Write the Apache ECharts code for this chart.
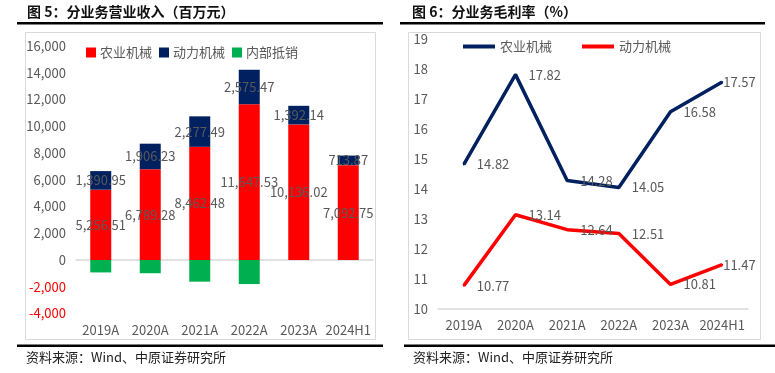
<!DOCTYPE html>
<html>
<head>
<meta charset="utf-8">
<script src="https://cdn.jsdelivr.net/npm/echarts@6/dist/echarts.min.js"></script>
<style>
html,body{margin:0;padding:0;background:#fff;}
#c{width:775px;height:373px;}
</style>
</head>
<body>
<div id="c"></div>
<script>
// ---- Data ----
const categories = ['2019A', '2020A', '2021A', '2022A', '2023A', '2024H1'];
const revAgri = [5256.51, 6789.28, 8462.48, 11647.53, 10136.02, 7092.75];
const revPower = [1390.95, 1906.23, 2277.49, 2575.47, 1392.14, 713.87];
const revElim = [-930, -990, -1620, -1800, 0, 0];
const marginAgri = [14.82, 17.82, 14.28, 14.05, 16.58, 17.57];
const marginPower = [10.77, 13.14, 12.64, 12.51, 10.81, 11.47];
const seriesNames = ['农业机械', '动力机械', '内部抵销'];
const title1 = '图 5：分业务营业收入（百万元）';
const title2 = '图 6：分业务毛利率（%）';
const sourceText = '资料来源：Wind、中原证券研究所';

const FONT = '"Noto Sans CJK SC", "Noto Sans", sans-serif';
const GRAY = '#595959';
const RED = '#FF0000';
const NAVY = '#002060';
const GREEN = '#00B050';

function fmt2(v) {
  return Number(v).toLocaleString('en-US', {minimumFractionDigits: 2, maximumFractionDigits: 2});
}
function fmt0(v) {
  return Number(v).toLocaleString('en-US');
}
function lineData(arr) {
  return arr.map((v, i) => {
    if (i === arr.length - 1) {
      return {value: v, label: {distance: 0}};
    }
    return v;
  });
}

const chart = echarts.init(document.getElementById('c'), null, {renderer: 'canvas'});

const option = {
  animation: false,
  backgroundColor: '#fff',
  textStyle: {fontFamily: FONT},
  graphic: [
    {type: 'text', left: 27, top: 5, style: {text: title1, font: 'bold 14px ' + FONT, fill: '#111'}},
    {type: 'text', left: 412, top: 5, style: {text: title2, font: 'bold 14px ' + FONT, fill: '#111'}},
    {type: 'rect', shape: {x: 17, y: 22, width: 366, height: 2.5}, style: {fill: '#000'}},
    {type: 'rect', shape: {x: 400, y: 22, width: 365, height: 2.5}, style: {fill: '#000'}},
    {type: 'rect', shape: {x: 25.5, y: 32.5, width: 350, height: 307}, style: {fill: 'none', stroke: '#d9d9d9', lineWidth: 1}, z: -1},
    {type: 'rect', shape: {x: 408.5, y: 32.5, width: 352, height: 307}, style: {fill: 'none', stroke: '#d9d9d9', lineWidth: 1}, z: -1},
    {type: 'rect', shape: {x: 17, y: 344.5, width: 366, height: 2.5}, style: {fill: '#000'}},
    {type: 'rect', shape: {x: 404, y: 344.5, width: 371, height: 2.5}, style: {fill: '#000'}},
    {type: 'text', left: 26, top: 351, style: {text: sourceText, font: '13px ' + FONT, fill: '#222'}},
    {type: 'text', left: 413, top: 351, style: {text: sourceText, font: '13px ' + FONT, fill: '#222'}}
  ],
  legend: [
    {
      data: seriesNames,
      left: 81, top: 41,
      itemWidth: 10, itemHeight: 10, itemGap: 7,
      icon: 'rect',
      textStyle: {color: GRAY, fontSize: 13, fontFamily: FONT, padding: [0, 0, 0, -1]}
    },
    {
      data: [{name: '农业机械 ', itemStyle: {color: NAVY}}, {name: '动力机械 ', itemStyle: {color: RED}}],
      left: 458, top: 35,
      itemWidth: 32, itemHeight: 4, itemGap: 30,
      icon: 'rect',
      textStyle: {color: GRAY, fontSize: 13, fontFamily: FONT},
      formatter: n => n.trim()
    }
  ],
  grid: [
    {left: 76, right: 402, top: 46, bottom: 59.5},
    {left: 438, right: 27, top: 39.3, bottom: 64.3}
  ],
  xAxis: [
    {
      type: 'category', gridIndex: 0, data: categories,
      axisLine: {lineStyle: {color: '#d9d9d9', width: 1.5}},
      axisTick: {show: false},
      axisLabel: {color: GRAY, fontSize: 13, margin: 10, fontFamily: FONT, interval: 0}
    },
    {
      type: 'category', gridIndex: 1, data: categories,
      axisLine: {lineStyle: {color: '#d9d9d9', width: 1.5}},
      axisTick: {show: false},
      axisLabel: {color: GRAY, fontSize: 13, margin: 10, fontFamily: FONT, interval: 0}
    }
  ],
  yAxis: [
    {
      type: 'value', gridIndex: 0, min: -4000, max: 16000, interval: 2000,
      axisLine: {show: false}, axisTick: {show: false}, splitLine: {show: false},
      axisLabel: {
        margin: 10, fontSize: 13, fontFamily: FONT,
        formatter: v => v < 0 ? '{r|' + fmt0(v) + '}' : '{g|' + fmt0(v) + '}',
        rich: {r: {color: RED, fontSize: 13, fontFamily: FONT}, g: {color: GRAY, fontSize: 13, fontFamily: FONT}}
      }
    },
    {
      type: 'value', gridIndex: 1, min: 10, max: 19, interval: 1,
      axisLine: {show: false}, axisTick: {show: false}, splitLine: {show: false},
      axisLabel: {color: GRAY, margin: 10, fontSize: 13, fontFamily: FONT}
    }
  ],
  series: [
    {
      name: seriesNames[0], type: 'bar', stack: 'rev', xAxisIndex: 0, yAxisIndex: 0,
      data: revAgri, barWidth: 21, itemStyle: {color: RED},
      label: {show: true, position: 'inside', color: GRAY, fontSize: 13, fontFamily: FONT, formatter: p => fmt2(p.value)}
    },
    {
      name: seriesNames[1], type: 'bar', stack: 'rev', xAxisIndex: 0, yAxisIndex: 0,
      data: revPower, barWidth: 21, itemStyle: {color: NAVY},
      label: {show: true, position: 'inside', color: GRAY, fontSize: 13, fontFamily: FONT, formatter: p => fmt2(p.value)}
    },
    {
      name: seriesNames[2], type: 'bar', stack: 'rev', xAxisIndex: 0, yAxisIndex: 0,
      data: revElim, barWidth: 21, itemStyle: {color: GREEN}
    },
    {
      name: '农业机械 ', type: 'line', xAxisIndex: 1, yAxisIndex: 1,
      data: lineData(marginAgri), symbol: 'circle', symbolSize: 2, showSymbol: true, color: NAVY,
      itemStyle: {color: NAVY},
      lineStyle: {color: NAVY, width: 3.5},
      label: {show: true, position: 'right', distance: 12, color: GRAY, fontSize: 13, fontFamily: FONT}
    },
    {
      name: '动力机械 ', type: 'line', xAxisIndex: 1, yAxisIndex: 1,
      data: lineData(marginPower), symbol: 'circle', symbolSize: 2, showSymbol: true, color: RED,
      itemStyle: {color: RED},
      lineStyle: {color: RED, width: 3.5},
      label: {show: true, position: 'right', distance: 12, color: GRAY, fontSize: 13, fontFamily: FONT}
    }
  ]
};
chart.setOption(option);
</script>
</body>
</html>
